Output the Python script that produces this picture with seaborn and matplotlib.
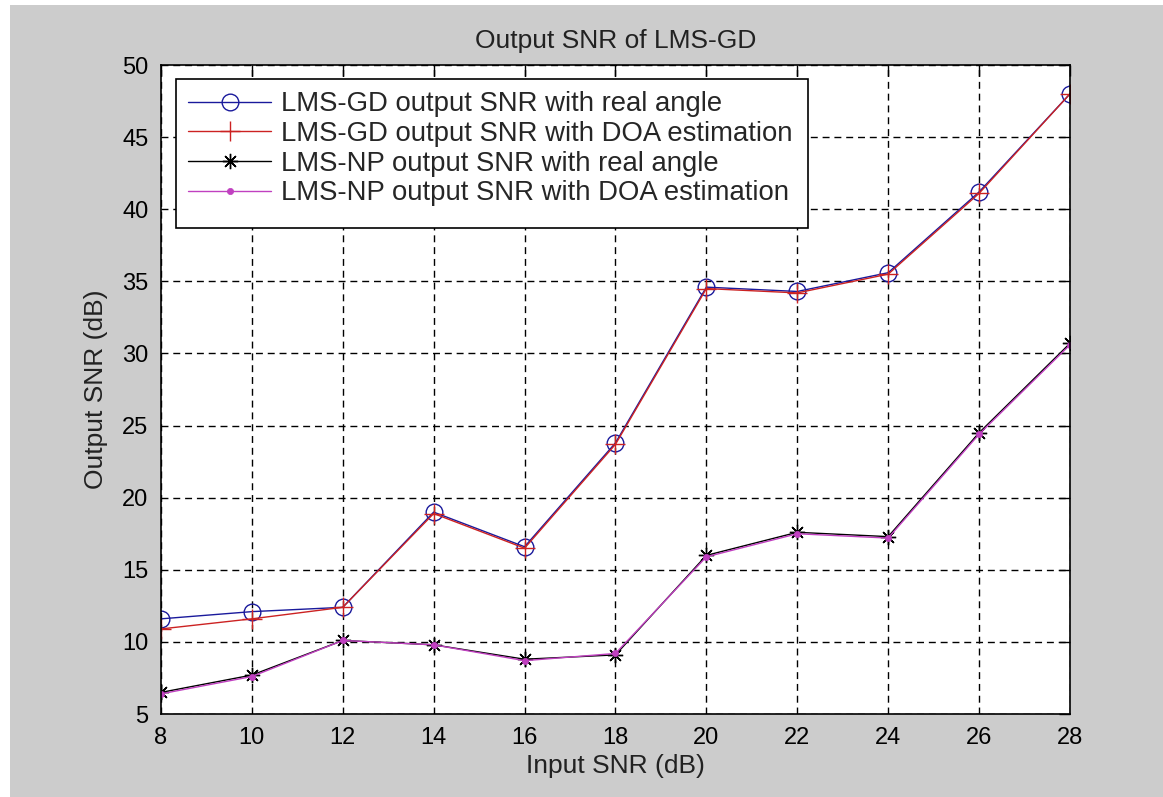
import numpy as np
import pandas as pd
import seaborn as sns
import matplotlib.pyplot as plt
from matplotlib.patches import Rectangle

# values
input_snr = [8, 10, 12, 14, 16, 18, 20, 22, 24, 26, 28]
gd_real = [11.6, 12.1, 12.4, 19.0, 16.6, 23.8, 34.6, 34.3, 35.6, 41.2, 48.0]
gd_doa = [10.9, 11.6, 12.4, 18.9, 16.5, 23.7, 34.5, 34.2, 35.5, 41.1, 48.0]
np_real = [6.5, 7.7, 10.1, 9.8, 8.8, 9.1, 16.0, 17.6, 17.3, 24.5, 30.7]
np_doa = [6.4, 7.6, 10.1, 9.8, 8.7, 9.2, 15.9, 17.5, 17.2, 24.4, 30.6]

labels = ['LMS-GD output SNR with real angle',
          'LMS-GD output SNR with DOA estimation',
          'LMS-NP output SNR with real angle',
          'LMS-NP output SNR with DOA estimation']

sns.set_style('white')
plt.rcParams['font.family'] = ['Liberation Sans', 'DejaVu Sans']

fig = plt.figure(figsize=(11.63, 7.97), dpi=100)
fig.patch.set_facecolor('white')
# gray matlab window area, thin white strip at top/left
fig.patches.append(Rectangle((10 / 1163, 0), 1, 1 - 5 / 797, transform=fig.transFigure,
                             facecolor='#cccccc', edgecolor='none', zorder=-10))
ax = fig.add_axes([0.1384, 0.1041, 0.7816, 0.8143])
ax.set_facecolor('white')

styles = [
    dict(color='#1a1a9c', marker='o', markersize=12, markerfacecolor='none',
         markeredgecolor='#1a1a9c', markeredgewidth=1.0),
    dict(color='#cc2222', marker='+', markersize=15, markeredgecolor='#cc2222',
         markeredgewidth=1.0),
    dict(color='black', marker=(8, 2, 0), markersize=11, markeredgecolor='black',
         markerfacecolor='black', markeredgewidth=1.0),
    dict(color='#c040c0', marker='.', markersize=9, markeredgecolor='#c040c0',
         markerfacecolor='#c040c0', markeredgewidth=0.5),
]
series = [gd_real, gd_doa, np_real, np_doa]
for vals, lab, st in zip(series, labels, styles):
    sns.lineplot(x=input_snr, y=vals, ax=ax, label=lab, linewidth=1.0, **st)

ax.set_xlim(8, 28)
ax.set_ylim(5, 50)
ax.set_xticks(input_snr)
ax.set_yticks(np.arange(5, 51, 5))
ax.grid(True, color='black', linestyle=(0, (5, 3.5)), linewidth=1.0)
ax.set_axisbelow(True)
for s in ax.spines.values():
    s.set_color('black')
    s.set_linewidth(1.2)
ax.tick_params(direction='in', length=8, width=1.0, top=True, right=True,
               labelsize=17, pad=9, colors='black')

ax.set_title('Output SNR of LMS-GD', fontsize=19, pad=12, color='#222222')
ax.set_xlabel('Input SNR (dB)', fontsize=19, labelpad=4, color='#222222')
ax.set_ylabel('Output SNR (dB)', fontsize=19, labelpad=10, color='#222222')

# matlab-style legend box (taller at the bottom than matplotlib's own frame)
ax.add_patch(Rectangle((0.0165, 0.7488), 0.6953, 0.2296, transform=ax.transAxes,
                       facecolor='white', edgecolor='black', linewidth=1.2, zorder=4))
leg = ax.legend(loc='upper left', bbox_to_anchor=(0.0165, 0.9784),
                borderaxespad=0, fontsize=19.8, frameon=False, handlelength=3.0,
                labelspacing=0.13, borderpad=0.45, handletextpad=0.38)
leg.set_zorder(5)

fig.savefig('out.png', dpi=100, facecolor=fig.get_facecolor())
